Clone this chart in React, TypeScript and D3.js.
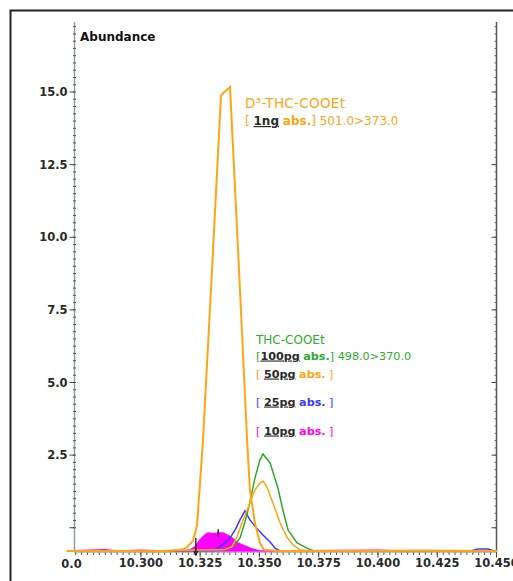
import React from 'react';
import * as d3 from 'd3';

// retention time (min) and abundance
const timeDomain: [number, number] = [10.272, 10.45];
const abundanceDomain: [number, number] = [-0.8, 17.41];
const baselineLevel = -0.8;

const xTicks = [10.3, 10.325, 10.35, 10.375, 10.4, 10.425, 10.45];
const xTickLabels = ['10.300', '10.325', '10.350', '10.375', '10.400', '10.425', '10.450'];
const yTicks = [0, 2.5, 5, 7.5, 10, 12.5, 15];
const yTickLabels = ['', '2.5', '5.0', '7.5', '10.0', '12.5', '15.0'];

// D3-THC-COOEt 1ng, 501.0>373.0
const d3Thc1ng: [number, number][] = [
  [10.2688, -0.8], [10.2912, -0.8], [10.3081, -0.82], [10.3165, -0.76], [10.319, -0.7],
  [10.322, -0.45], [10.3237, 0.1], [10.3262, 3.02], [10.33, 8.87], [10.3338, 14.9],
  [10.3376, 15.17], [10.3414, 8.87], [10.3448, 3.02], [10.346, 1.3], [10.3481, 0.17],
  [10.3502, -0.52], [10.3519, -0.76], [10.3587, -0.8], [10.3883, -0.8], [10.4177, -0.78],
  [10.4502, -0.8],
];

// THC-COOEt 100pg, 498.0>370.0
const thc100pg: [number, number][] = [
  [10.2688, -0.8], [10.3038, -0.8], [10.3355, -0.76], [10.3397, -0.59], [10.3418, -0.35],
  [10.3439, 0.2], [10.346, 0.89], [10.3481, 1.71], [10.3502, 2.33], [10.3515, 2.54],
  [10.3545, 2.23], [10.3578, 1.37], [10.3599, 0.61], [10.3621, -0.08], [10.3659, -0.52],
  [10.3701, -0.7], [10.373, -0.8], [10.4093, -0.8], [10.4502, -0.8],
];

const thc50pg: [number, number][] = [
  [10.2688, -0.8], [10.3038, -0.8], [10.3355, -0.75], [10.3384, -0.66], [10.3405, -0.32],
  [10.3431, 0.27], [10.346, 0.85], [10.3481, 1.3], [10.3502, 1.54], [10.3515, 1.61],
  [10.3532, 1.4], [10.3557, 0.85], [10.3587, 0.17], [10.3616, -0.32], [10.3642, -0.59],
  [10.3671, -0.76], [10.3713, -0.8], [10.4502, -0.8],
];

const thc25pg: [number, number][] = [
  [10.2688, -0.8], [10.3311, -0.78], [10.3355, -0.52], [10.3376, -0.35], [10.3397, -0.08],
  [10.3418, 0.27], [10.3439, 0.58], [10.346, 0.27], [10.3488, -0.01], [10.3515, -0.25],
  [10.3545, -0.49], [10.3566, -0.7], [10.3587, -0.8], [10.4388, -0.8], [10.4422, -0.73],
  [10.4464, -0.73], [10.449, -0.8],
];

const thc10pg: [number, number][] = [
  [10.2688, -0.8], [10.285, -0.76], [10.29, -0.8], [10.3, -0.77], [10.31, -0.8],
  [10.3186, -0.8], [10.3207, -0.76], [10.3228, -0.66], [10.3249, -0.42], [10.327, -0.25],
  [10.3283, -0.18], [10.3304, -0.21], [10.3325, -0.18], [10.3346, -0.18], [10.3363, -0.25],
  [10.3384, -0.35], [10.3409, -0.52], [10.3439, -0.63], [10.346, -0.7], [10.3481, -0.76],
  [10.3502, -0.8], [10.4, -0.77], [10.41, -0.8], [10.4502, -0.8],
];

const ORANGE = '#ffa514';
const GREEN = '#2eaa2e';
const BLUE = '#3b3bff';
const MAGENTA = '#ff00ff';
const DARK = '#2a2a2a';

const W = 513;
const H = 581;
const FONT = '"DejaVu Sans", Arial, sans-serif';

export default function App() {
  const x = d3.scaleLinear().domain(timeDomain).range([74.5, 496.5]);
  const y = d3.scaleLinear().domain(abundanceDomain).range([551, 22]);

  const line = d3.line<[number, number]>()
    .x(d => x(d[0]))
    .y(d => y(d[1]));
  const area = d3.area<[number, number]>()
    .x(d => x(d[0]))
    .y0(y(baselineLevel))
    .y1(d => y(d[1]));

  const yMinor = d3.range(0, 17.4, 0.25);
  const xMinor = d3.range(10.2725, 10.4501, 0.0025);
  const left = x(timeDomain[0]);
  const right = x(timeDomain[1]);
  const axisY = y(baselineLevel) + 1.5;

  const amount = (s: string) => (
    <tspan fill={DARK} fontWeight="bold" textDecoration="underline">{s}</tspan>
  );

  return (
    <svg width={W} height={H} style={{ position: 'absolute', left: 0, top: 0, background: '#fff' }}
      fontFamily={FONT}>
      {/* frame */}
      <rect x={10.5} y={10.5} width={W + 20} height={H + 20} fill="none" stroke="#222" strokeWidth={2} />

      {/* left axis */}
      <line x1={left} x2={left} y1={y.range()[1]} y2={axisY} stroke="#8e9cab" strokeWidth={1.5} />
      {yMinor.map(v => (
        <line key={'lm' + v} x1={left - 1.5} x2={left + 1.5} y1={y(v)} y2={y(v)} stroke="#555" />
      ))}
      {yTicks.map((v, i) => (
        <g key={'yt' + v}>
          <line x1={left - 5} x2={left} y1={y(v)} y2={y(v)} stroke="#444" />
          <text x={left - 7} y={y(v) + 4} textAnchor="end" fontSize={11.5} fontWeight="bold" fill={DARK}>
            {yTickLabels[i]}
          </text>
        </g>
      ))}
      <text x={left + 5.5} y={41} fontSize={12} fontWeight="bold" fill="#111">Abundance</text>

      {/* right axis */}
      <line x1={right} x2={right} y1={y.range()[1]} y2={axisY} stroke="#555" strokeWidth={1.5} />
      {yMinor.map(v => (
        <line key={'rm' + v} x1={right - 2} x2={right} y1={y(v)} y2={y(v)} stroke="#666" />
      ))}
      {yTicks.map(v => (
        <line key={'rt' + v} x1={right - 5} x2={right} y1={y(v)} y2={y(v)} stroke="#444" />
      ))}

      {/* x axis */}
      <line x1={left} x2={right} y1={axisY} y2={axisY} stroke="#b8c2cc" />
      {xMinor.map(t => (
        <line key={'xm' + t} x1={x(t)} x2={x(t)} y1={axisY} y2={axisY + 2.5} stroke="#555" />
      ))}
      {xTicks.map((t, i) => (
        <g key={'xt' + t}>
          <line x1={x(t)} x2={x(t)} y1={axisY} y2={axisY + 5} stroke="#444" />
          <text x={x(t)} y={567} textAnchor="middle" fontSize={11.5} fontWeight="bold" fill={DARK}>
            {xTickLabels[i]}
          </text>
        </g>
      ))}
      <text x={left - 3} y={568} textAnchor="middle" fontSize={11.5} fontWeight="bold" fill={DARK}>0.0</text>

      {/* traces */}
      <path d={area(thc10pg) ?? ''} fill={MAGENTA} stroke={MAGENTA} strokeWidth={1.5} />
      <path d={line(thc25pg) ?? ''} fill="none" stroke={BLUE} strokeWidth={1.5} />
      <path d={line(thc100pg) ?? ''} fill="none" stroke={GREEN} strokeWidth={1.5} />
      <path d={line(thc50pg) ?? ''} fill="none" stroke={ORANGE} strokeWidth={1.5} />
      <path d={line(d3Thc1ng) ?? ''} fill="none" stroke={ORANGE} strokeWidth={2} />

      {/* integration marks */}
      <line x1={x(10.3232)} x2={x(10.3232)} y1={y(-0.35)} y2={y(-0.95)} stroke="#000" strokeWidth={1.2} />
      <path d={`M${x(10.3232) - 2},${y(-0.8)} L${x(10.3232)},${y(-0.95)} L${x(10.3232) + 2},${y(-0.8)}`}
        fill="none" stroke="#000" />
      <line x1={x(10.3326)} x2={x(10.3326)} y1={y(-0.05)} y2={y(-0.3)} stroke="#000" strokeWidth={1.2} />

      {/* annotations */}
      <g fontSize={12}>
        <text x={245} y={108} fill={ORANGE} fontSize={13.5} letterSpacing={0.3}>D³-THC-COOEt</text>
        <text x={245} y={125} fill={ORANGE} xmlSpace="preserve">
          [ {amount('1ng')} <tspan fontWeight="bold">abs.</tspan>] 501.0&gt;373.0
        </text>

        <text x={256} y={344} fill={GREEN}>THC-COOEt</text>
        <text x={256} y={359.5} fill={GREEN} fontSize={11.2}>
          [{amount('100pg')} <tspan fontWeight="bold">abs.</tspan>] 498.0&gt;370.0
        </text>
        <text x={256} y={377.5} fill={ORANGE} fontSize={11.2}>
          [ {amount('50pg')} <tspan fontWeight="bold">abs.</tspan> ]
        </text>
        <text x={256} y={405.5} fill={BLUE} fontSize={11.2}>
          [ {amount('25pg')} <tspan fontWeight="bold">abs.</tspan> ]
        </text>
        <text x={256} y={434.5} fill={MAGENTA} fontSize={11.2}>
          [ {amount('10pg')} <tspan fontWeight="bold">abs.</tspan> ]
        </text>
      </g>
    </svg>
  );
}
